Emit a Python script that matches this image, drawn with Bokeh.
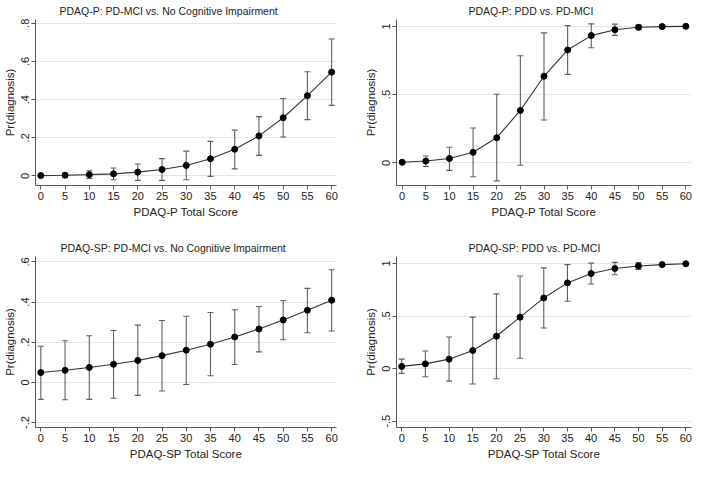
from bokeh.plotting import figure
from bokeh.layouts import gridplot
from bokeh.models import (ColumnDataSource, Whisker, TeeHead, FixedTicker,
                          CustomJSTickFormatter, Range1d, Title)
from bokeh.embed import file_html
from bokeh.resources import INLINE

# ---------------- data ----------------
scores = [0, 5, 10, 15, 20, 25, 30, 35, 40, 45, 50, 55, 60]

p_mci_prob = [0.002, 0.004, 0.007, 0.011, 0.020, 0.034, 0.055, 0.090, 0.140, 0.210, 0.305, 0.421, 0.544]
p_mci_lo = [-0.002, -0.006, -0.013, -0.020, -0.023, -0.023, -0.020, -0.002, 0.037, 0.108, 0.204, 0.295, 0.370]
p_mci_hi = [0.006, 0.014, 0.027, 0.042, 0.063, 0.091, 0.130, 0.181, 0.240, 0.311, 0.406, 0.546, 0.718]

p_pdd_prob = [0.004, 0.013, 0.032, 0.077, 0.184, 0.384, 0.634, 0.827, 0.932, 0.975, 0.993, 0.998, 1.000]
p_pdd_lo = [-0.004, -0.027, -0.055, -0.102, -0.132, -0.018, 0.314, 0.648, 0.843, 0.934, 0.975, 0.994, 0.999]
p_pdd_hi = [0.012, 0.050, 0.114, 0.255, 0.502, 0.784, 0.952, 1.005, 1.018, 1.016, 1.010, 1.002, 1.001]

sp_mci_prob = [0.049, 0.060, 0.074, 0.090, 0.109, 0.133, 0.160, 0.190, 0.226, 0.266, 0.311, 0.359, 0.409]
sp_mci_lo = [-0.085, -0.087, -0.085, -0.079, -0.065, -0.043, -0.011, 0.033, 0.089, 0.152, 0.212, 0.247, 0.256]
sp_mci_hi = [0.180, 0.207, 0.232, 0.258, 0.285, 0.308, 0.329, 0.348, 0.362, 0.378, 0.408, 0.468, 0.561]

sp_pdd_prob = [0.021, 0.045, 0.090, 0.172, 0.308, 0.489, 0.672, 0.815, 0.904, 0.952, 0.976, 0.989, 0.997]
sp_pdd_lo = [-0.045, -0.078, -0.119, -0.146, -0.096, 0.098, 0.386, 0.640, 0.805, 0.893, 0.943, 0.980, 0.994]
sp_pdd_hi = [0.090, 0.167, 0.300, 0.490, 0.711, 0.880, 0.958, 0.989, 1.003, 1.010, 1.008, 0.998, 1.000]

titles = ["PDAQ-P: PD-MCI vs. No Cognitive Impairment",
          "PDAQ-P: PDD vs. PD-MCI",
          "PDAQ-SP: PD-MCI vs. No Cognitive Impairment",
          "PDAQ-SP: PDD vs. PD-MCI"]
xlabels = ["PDAQ-P Total Score", "PDAQ-P Total Score",
           "PDAQ-SP Total Score", "PDAQ-SP Total Score"]
ylabel = "Pr(diagnosis)"

yticks_1 = [0, 0.2, 0.4, 0.6, 0.8]
yticks_2 = [0, 0.5, 1]
yticks_3 = [-0.2, 0, 0.2, 0.4, 0.6]
yticks_4 = [-0.5, 0, 0.5, 1]

FONT = "Liberation Sans"
AXIS_COL = "#555555"
BAR_COL = "#5f5f5f"

fmt_code = """
if (Math.abs(tick) < 1e-9) { return "0"; }
var s = String(Math.round(tick * 10) / 10);
return s.replace("0.", ".");
"""


def panel(title, xlabel, prob, lo, hi, xr, yr, yticks, w, h, bl, br, bt, bb, toff):
    p = figure(width=w, height=h, x_range=Range1d(*xr), y_range=Range1d(*yr),
               output_backend="svg", toolbar_location=None,
               min_border_left=bl, min_border_right=br,
               min_border_top=bt, min_border_bottom=bb)
    p.add_layout(Title(text=title, align="left", offset=toff,
                       text_font=FONT, text_font_size="10.5px",
                       text_font_style="normal", text_color="#222222",
                       standoff=5), "above")
    p.outline_line_color = None
    p.background_fill_color = "white"
    p.border_fill_color = "white"

    src = ColumnDataSource(dict(x=scores, y=prob, lo=lo, hi=hi))
    p.add_layout(Whisker(source=src, base="x", upper="hi", lower="lo",
                         line_color=BAR_COL, line_width=1.1,
                         upper_head=TeeHead(size=6, line_color=BAR_COL, line_width=1.1),
                         lower_head=TeeHead(size=6, line_color=BAR_COL, line_width=1.1)))
    p.line("x", "y", source=src, line_color="#333333", line_width=1.1)
    p.scatter("x", "y", source=src, size=6, color="black")

    p.xgrid.visible = False
    p.ygrid.ticker = FixedTicker(ticks=yticks)
    p.ygrid.grid_line_color = "#e6e6e6"
    p.ygrid.grid_line_width = 1

    p.xaxis.ticker = FixedTicker(ticks=scores)
    p.yaxis.ticker = FixedTicker(ticks=yticks)
    p.yaxis.formatter = CustomJSTickFormatter(code=fmt_code)
    p.yaxis.major_label_orientation = "vertical"

    for ax in (p.xaxis, p.yaxis):
        ax.axis_line_color = AXIS_COL
        ax.major_tick_line_color = AXIS_COL
        ax.minor_tick_line_color = None
        ax.major_tick_in = 0
        ax.major_tick_out = 4
        ax.major_label_text_font = FONT
        ax.major_label_text_font_size = "11px"
        ax.major_label_text_color = "#222222"
        ax.axis_label_text_font = FONT
        ax.axis_label_text_font_size = "11.5px"
        ax.axis_label_text_font_style = "normal"
        ax.axis_label_text_color = "#222222"
        ax.major_label_standoff = 2
        ax.axis_label_standoff = 3
    p.xaxis.axis_label = xlabel
    p.yaxis.axis_label = ylabel
    return p


p1 = panel(titles[0], xlabels[0], p_mci_prob, p_mci_lo, p_mci_hi,
           (-1.1, 61.0), (-0.05, 0.82), yticks_1, 346, 229, 34, 10, 17, 44, 24)
p2 = panel(titles[1], xlabels[1], p_pdd_prob, p_pdd_lo, p_pdd_hi,
           (-1.2, 61.2), (-0.166, 1.05), yticks_2, 346, 229, 50, 1, 17, 44, 72)
p3 = panel(titles[2], xlabels[2], sp_mci_prob, sp_mci_lo, sp_mci_hi,
           (-1.1, 61.0), (-0.225, 0.627), yticks_3, 346, 233, 34, 10, 27, 34, 25)
p4 = panel(titles[3], xlabels[3], sp_pdd_prob, sp_pdd_lo, sp_pdd_hi,
           (-1.1, 61.2), (-0.56, 1.066), yticks_4, 346, 233, 45, 1, 27, 34, 72)

grid = gridplot([[p1, p2], [p3, p4]], toolbar_location=None)

open("out.html", "w").write(file_html(grid, INLINE))
